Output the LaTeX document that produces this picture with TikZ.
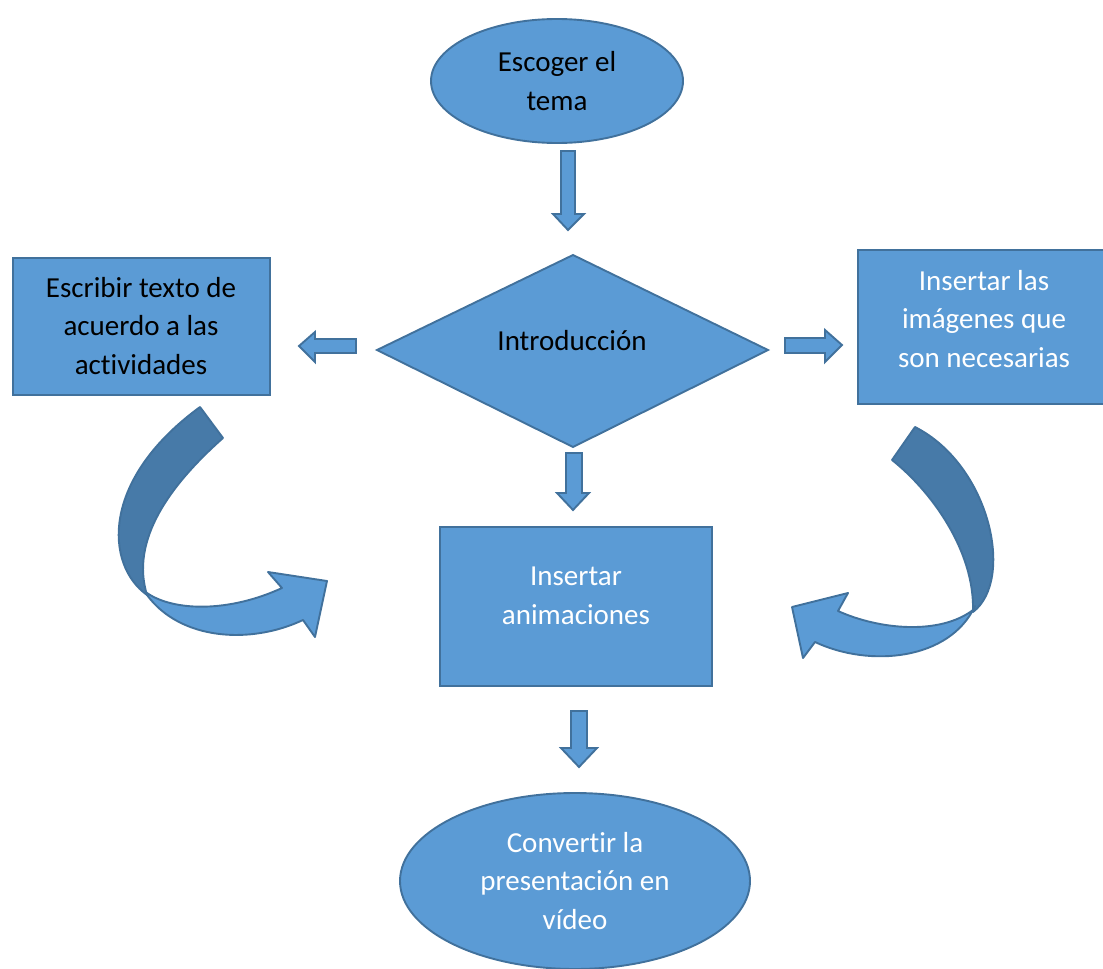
\documentclass[tikz,border=0pt]{standalone}
\usepackage{fontspec}
\setmainfont[Ligatures=NoCommon]{Carlito}
\definecolor{fillb}{HTML}{5B9BD5}
\definecolor{lineb}{HTML}{41719C}
\definecolor{darkb}{HTML}{477AA8}
\begin{document}
\begin{tikzpicture}[x=1pt,y=-1pt,
  shp/.style={fill=fillb,draw=lineb,line width=1.9pt,line join=miter},
  dshp/.style={fill=darkb,draw=lineb,line width=1.9pt,line join=round},
  txt/.style={align=center,font=\fontsize{29}{38.5}\selectfont,inner sep=0pt},
  wtxt/.style={txt,text=white}]
\useasboundingbox (0,0) rectangle (1103,969);
% shapes
\draw[shp] (557,81) ellipse[x radius=126,y radius=62];
\node[txt] (escoger) at (557,81) {Escoger el\\tema};
\draw[shp] (377,350) coordinate (dl) -- (573,255) coordinate (dt) -- (768,350) coordinate (dr) -- (573,447) coordinate (db) -- cycle;
\node[txt] (intro) at (572,341) {Introducción};
\draw[shp] (13,258) rectangle (270,395);
\node[txt] (escribir) at (141,326) {Escribir texto de\\acuerdo a las\\actividades};
\draw[shp] (858,250) rectangle (1106,404);
\node[wtxt] (imagenes) at (984,319) {Insertar las\\imágenes que\\son necesarias};
\draw[shp] (440,527) rectangle (712,686);
\node[wtxt] (anim) at (576,596) {Insertar\\animaciones};
\draw[shp] (575,881) ellipse[x radius=175,y radius=88];
\node[wtxt] (video) at (575,881) {Convertir la\\presentación en\\vídeo};
% block arrows
\draw[shp] (561,151) -- (575,151) -- (575,214) -- (584,214) -- (568,230) -- (553,214) -- (561,214) -- cycle;
\draw[shp] (566,453) -- (582,453) -- (582,493) -- (589,493) -- (573,510) -- (557,493) -- (566,493) -- cycle;
\draw[shp] (571,711) -- (587,711) -- (587,748) -- (597,748) -- (579,767) -- (561,748) -- (571,748) -- cycle;
\draw[shp] (356,339) -- (315,339) -- (315,332) -- (299,346) -- (315,362) -- (315,353) -- (356,353) -- cycle;
\draw[shp] (785,338) -- (825,338) -- (825,330) -- (842,345) -- (825,362) -- (825,353) -- (785,353) -- cycle;
% left curved arrow
\draw[dshp] (200,407) -- (223,438) .. controls (170,485) and (130,540) .. (147,595)
  .. controls (105,565) and (100,480) .. (200,407) -- cycle;
\draw[shp,line join=round] (147,593) .. controls (175,612) and (230,612) .. (282,588) -- (268,572) -- (327,581) -- (315,637) -- (303,620)
  .. controls (250,645) and (180,640) .. (147,595) -- cycle;
% right curved arrow
\draw[dshp] (915,427) .. controls (990,465) and (1015,580) .. (973,612)
  .. controls (975,550) and (930,490) .. (892,460) -- cycle;
\draw[shp,line join=round] (973,610) .. controls (940,635) and (880,630) .. (838,611) -- (848,593) -- (792,607) -- (803,658) -- (815,642)
  .. controls (870,668) and (950,660) .. (975,606) -- cycle;
\end{tikzpicture}
\end{document}
